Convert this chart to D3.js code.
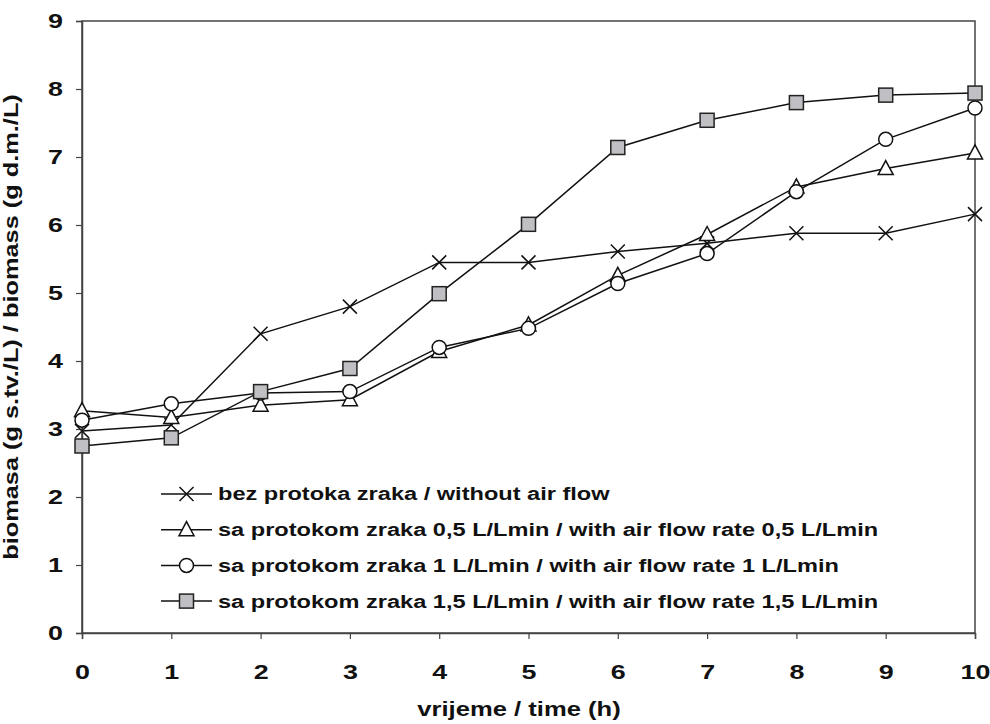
<!DOCTYPE html>
<html>
<head>
<meta charset="utf-8">
<script src="https://cdn.jsdelivr.net/npm/d3@7"></script>
<style>
  body { margin: 0; background: #fff; }
  svg { font-family: "Liberation Sans", Arial, sans-serif; font-weight: bold; }
</style>
</head>
<body>
<div id="chart"></div>
<script>
// time (h)
const hours = [0, 1, 2, 3, 4, 5, 6, 7, 8, 9, 10];
const yTicks = [0, 1, 2, 3, 4, 5, 6, 7, 8, 9];

const noAir = [2.97, 3.06, 4.40, 4.80, 5.45, 5.45, 5.61, 5.73, 5.88, 5.88, 6.16];
const air05 = [3.27, 3.17, 3.35, 3.43, 4.14, 4.53, 5.26, 5.86, 6.56, 6.83, 7.06];
const air1 = [3.13, 3.37, 3.53, 3.55, 4.20, 4.48, 5.14, 5.58, 6.49, 7.26, 7.72];
const air15 = [2.75, 2.87, 3.55, 3.89, 4.99, 6.01, 7.14, 7.54, 7.80, 7.91, 7.94];

const seriesNames = [
  'bez protoka zraka / without air flow',
  'sa protokom zraka 0,5 L/Lmin / with air flow rate 0,5 L/Lmin',
  'sa protokom zraka 1 L/Lmin / with air flow rate 1 L/Lmin',
  'sa protokom zraka 1,5 L/Lmin / with air flow rate 1,5 L/Lmin'
];
const seriesData = [noAir, air05, air1, air15];
const markers = ['cross', 'triangle', 'circle', 'square'];

const W = 990, H = 724;
const m = { left: 82, right: 15, top: 21, bottom: 91 };
const w = W - m.left - m.right, h = H - m.top - m.bottom;
const sx = 1.28; // the original font is wider than Arial

const svg = d3.select('#chart').append('svg')
  .attr('width', W).attr('height', H);

const g = svg.append('g').attr('transform', 'translate(' + m.left + ',' + m.top + ')');

const x = d3.scaleLinear().domain([0, 10]).range([0, w]);
const y = d3.scaleLinear().domain([0, 9]).range([h, 0]);

// frame
g.append('rect').attr('width', w).attr('height', h)
  .attr('fill', 'none').attr('stroke', '#444').attr('stroke-width', 1.5);

const xAxis = g.append('g').attr('transform', 'translate(0,' + h + ')')
  .call(d3.axisBottom(x).tickValues(hours).tickSize(6).tickPadding(25).tickFormat(d3.format('d')));
const yAxis = g.append('g')
  .call(d3.axisLeft(y).tickValues(yTicks).tickSize(6).tickPadding(13).tickFormat(d3.format('d')));

[xAxis, yAxis].forEach(a => {
  a.select('.domain').attr('stroke', '#444').attr('stroke-width', 1.5);
  a.selectAll('.tick line').attr('stroke', '#444').attr('stroke-width', 1.2);
  a.selectAll('.tick text').attr('fill', '#111').style('font-size', '21px')
    .style('font-family', '"Liberation Sans", Arial, sans-serif').style('font-weight', 'bold');
});
xAxis.selectAll('.tick text').attr('transform', 'scale(' + sx + ',1)');
yAxis.selectAll('.tick text').attr('x', -19 / sx).attr('transform', 'scale(' + sx + ',1)');

svg.append('text').attr('transform', 'translate(519,716) scale(' + sx + ',1)')
  .attr('text-anchor', 'middle').attr('fill', '#111').style('font-size', '20px')
  .text('vrijeme / time (h)');

svg.append('text').attr('transform', 'translate(18,' + (m.top + h / 2) + ') rotate(-90) scale(' + (sx + 0.02) + ',1)')
  .attr('text-anchor', 'middle').attr('fill', '#111').style('font-size', '19.5px')
  .text('biomasa (g s.tv./L) / biomass (g d.m./L)');

function drawMarker(sel, type) {
  if (type === 'cross') {
    sel.append('path').attr('d', 'M-7,-7L7,7M-7,7L7,-7')
      .attr('stroke', '#111').attr('stroke-width', 1.5).attr('fill', 'none');
  } else if (type === 'triangle') {
    sel.append('path').attr('d', 'M0,-8L7.5,6L-7.5,6Z')
      .attr('stroke', '#111').attr('stroke-width', 1.5).attr('fill', '#fff');
  } else if (type === 'circle') {
    sel.append('circle').attr('r', 7)
      .attr('stroke', '#111').attr('stroke-width', 1.5).attr('fill', '#fff');
  } else {
    sel.append('rect').attr('x', -7).attr('y', -7).attr('width', 14).attr('height', 14)
      .attr('stroke', '#222').attr('stroke-width', 1.5).attr('fill', '#c0c0c4');
  }
}

const line = d3.line().x((d, i) => x(hours[i])).y(d => y(d));

seriesData.forEach((vals, k) => {
  g.append('path').datum(vals).attr('d', line)
    .attr('fill', 'none').attr('stroke', '#111').attr('stroke-width', 1.5);
  g.selectAll('.pt' + k).data(vals).enter().append('g')
    .attr('transform', (d, i) => 'translate(' + x(hours[i]) + ',' + y(d) + ')')
    .each(function () { drawMarker(d3.select(this), markers[k]); });
});

// legend
const legend = svg.append('g').attr('transform', 'translate(161,494)');
seriesNames.forEach((name, k) => {
  const row = legend.append('g').attr('transform', 'translate(0,' + k * 35.7 + ')');
  row.append('line').attr('x1', 0).attr('x2', 51).attr('stroke', '#111').attr('stroke-width', 1.5);
  drawMarker(row.append('g').attr('transform', 'translate(25.5,0)'), markers[k]);
  row.append('text').attr('transform', 'translate(57,0) scale(' + (sx + 0.03) + ',1)')
    .attr('dy', '0.36em').attr('fill', '#111')
    .style('font-size', '18px').text(name);
});
</script>
</body>
</html>
